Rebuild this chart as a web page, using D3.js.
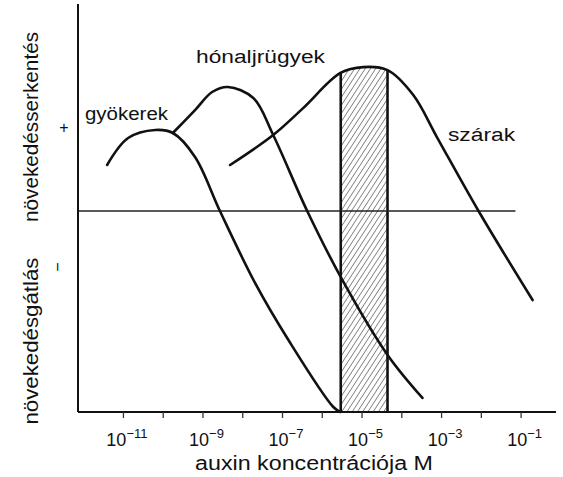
<!DOCTYPE html>
<html>
<head>
<meta charset="utf-8">
<script src="https://cdn.jsdelivr.net/npm/d3@7"></script>
<style>
  html, body { margin: 0; padding: 0; background: #fff; }
  svg { display: block; }
  text { font-family: "Liberation Sans", Arial, sans-serif; fill: #111; }
</style>
</head>
<body>
<script>
// ---------- data ----------
const tickExponents = [-11, -10, -9, -8, -7, -6, -5, -4, -3, -2, -1];
const labelExponents = [-11, -9, -7, -5, -3, -1];

const gyokerekConc = [4.0e-12, 1.35e-11, 6.5e-11, 1.8e-10, 6.5e-10, 2.75e-9, 2.1e-8, 1.45e-7, 1.95e-6, 2.95e-6];
const gyokerekVal  = [0.229, 0.363, 0.403, 0.388, 0.269, 0.0, -0.358, -0.642, -0.975, -1.0];

const honaljConc = [1.8e-10, 6.5e-10, 1.75e-9, 4.4e-9, 1.9e-8, 6.0e-8, 4.3e-7, 3.5e-6, 4.5e-5, 3.4e-4];
const honaljVal  = [0.388, 0.502, 0.592, 0.617, 0.562, 0.378, 0.0, -0.353, -0.716, -0.930];

const szarakConc = [4.95e-9, 6.0e-8, 3.4e-7, 2.95e-6, 1.1e-5, 4.5e-5, 2.0e-4, 8.1e-4, 8.75e-3, 0.2];
const szarakVal  = [0.229, 0.378, 0.512, 0.687, 0.716, 0.701, 0.577, 0.363, 0.0, -0.443];

const bandRange = [3.0e-6, 4.5e-5];     // hatched optimal range for stems
const baselineEnd = Math.pow(10, -1.13);

const seriesLabels = ["gyökerek", "hónaljrügyek", "szárak"];
const yLabels = ["növekedésserkentés", "növekedésgátlás"];
const xTitle = "auxin koncentrációja M";

// ---------- layout ----------
const W = 563, H = 477;
const svg = d3.select("body").append("svg").attr("width", W).attr("height", H);

const x = d3.scaleLog().domain([Math.pow(10, -12.13), Math.pow(10, -0.11)]).range([78, 556]);
const y = d3.scaleLinear().domain([-1, 1]).range([412, 10]);

const defs = svg.append("defs");
const pat = defs.append("pattern")
  .attr("id", "hatch").attr("patternUnits", "userSpaceOnUse")
  .attr("width", 4.4).attr("height", 10)
  .attr("patternTransform", "rotate(33)");
pat.append("line").attr("x1", 0).attr("y1", 0).attr("x2", 0).attr("y2", 10)
  .attr("stroke", "#333").attr("stroke-width", 1.1);

const curve = d3.curveCatmullRom.alpha(0.5);
const zip = (c, v) => c.map((d, i) => ({c: d, v: v[i]}));
const szarak = zip(szarakConc, szarakVal);

// clip: area under the szárak curve
const area = d3.area().x(d => x(d.c)).y0(y(-1)).y1(d => y(d.v)).curve(curve);
defs.append("clipPath").attr("id", "underSzarak").append("path").attr("d", area(szarak));

// ---------- band ----------
const band = svg.append("g").attr("clip-path", "url(#underSzarak)");
band.append("rect")
  .attr("x", x(bandRange[0])).attr("y", y(1))
  .attr("width", x(bandRange[1]) - x(bandRange[0]))
  .attr("height", y(-1) - y(1))
  .attr("fill", "url(#hatch)");
band.selectAll("line.edge").data(bandRange).enter().append("line")
  .attr("class", "edge")
  .attr("x1", d => x(d)).attr("x2", d => x(d))
  .attr("y1", y(1)).attr("y2", y(-1))
  .attr("stroke", "#111").attr("stroke-width", 2.6);

// ---------- baseline ----------
svg.append("line")
  .attr("x1", x.range()[0]).attr("x2", x(baselineEnd))
  .attr("y1", y(0)).attr("y2", y(0))
  .attr("stroke", "#222").attr("stroke-width", 1.4);

// ---------- curves ----------
const line = d3.line().x(d => x(d.c)).y(d => y(d.v)).curve(curve);
[zip(gyokerekConc, gyokerekVal), zip(honaljConc, honaljVal), szarak].forEach(s => {
  svg.append("path").attr("d", line(s))
    .attr("fill", "none").attr("stroke", "#111").attr("stroke-width", 2.6)
    .attr("stroke-linecap", "round").attr("stroke-linejoin", "round");
});

// ---------- axes ----------
svg.append("line")
  .attr("x1", x.range()[0]).attr("x2", x.range()[0])
  .attr("y1", y(1.03)).attr("y2", y(-1))
  .attr("stroke", "#111").attr("stroke-width", 2);

const xAxis = d3.axisBottom(x)
  .tickValues(tickExponents.map(e => Math.pow(10, e)))
  .tickSize(6).tickFormat("");
const gx = svg.append("g").attr("transform", `translate(0,${y(-1)})`).call(xAxis);
gx.select(".domain").attr("stroke", "#111").attr("stroke-width", 2)
  .attr("d", `M${x.range()[0]},0H${x.range()[1]}`);
gx.selectAll(".tick line").attr("stroke", "#333").attr("stroke-width", 1.3);

const tl = svg.append("g").selectAll("text").data(labelExponents).enter().append("text")
  .attr("x", d => x(Math.pow(10, d)) + 4).attr("y", 446)
  .attr("text-anchor", "middle").style("font-size", "18px");
tl.append("tspan").text("10");
tl.append("tspan").attr("dy", -8).style("font-size", "13px").text(d => "\u2212" + Math.abs(d));

svg.append("text").attr("x", 314).attr("y", 470).attr("text-anchor", "middle")
  .attr("textLength", 238).attr("lengthAdjust", "spacingAndGlyphs")
  .style("font-size", "20px").text(xTitle);

// ---------- labels ----------
const lblPos = [[85, 120, 83], [196, 63, 129], [448, 141, 67]];
seriesLabels.forEach((t, i) => {
  svg.append("text").attr("x", lblPos[i][0]).attr("y", lblPos[i][1])
    .attr("textLength", lblPos[i][2]).attr("lengthAdjust", "spacingAndGlyphs")
    .style("font-size", "18px").text(t);
});

const yl = [[127, 190], [341, 167]];
yLabels.forEach((t, i) => {
  svg.append("text")
    .attr("transform", `translate(38,${yl[i][0]}) rotate(-90)`)
    .attr("text-anchor", "middle")
    .attr("textLength", yl[i][1]).attr("lengthAdjust", "spacingAndGlyphs")
    .style("font-size", "20px").text(t);
});

svg.append("text").attr("x", 64).attr("y", 133).attr("text-anchor", "middle")
  .style("font-size", "16px").text("+");
svg.append("text").attr("transform", "translate(63,267) rotate(-90)")
  .attr("text-anchor", "middle").style("font-size", "16px").text("\u2212");
</script>
</body>
</html>
